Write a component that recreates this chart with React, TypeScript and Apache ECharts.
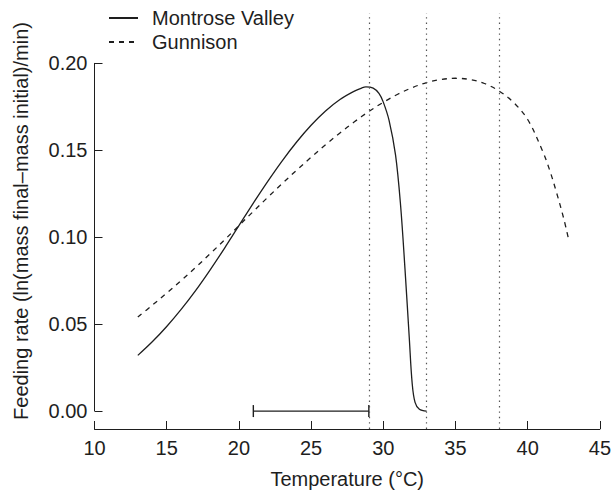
import React, { useEffect, useRef } from "react";
import * as echarts from "echarts";

// Montrose Valley (solid)
const montroseT = [13, 14, 15, 16, 17, 18, 19, 20, 21, 22, 23, 24, 25, 26, 27, 28, 28.5, 28.8, 29.3, 29.7, 30.0, 30.4, 30.85, 31.2, 31.5, 31.8, 32.0, 32.2, 32.5, 33];
const montroseV = [0.032, 0.0398, 0.0486, 0.0584, 0.0692, 0.081, 0.0935, 0.1065, 0.1195, 0.132, 0.1438, 0.1546, 0.1642, 0.1724, 0.179, 0.1838, 0.1856, 0.1862, 0.1855, 0.1825, 0.1775, 0.167, 0.147, 0.118, 0.082, 0.042, 0.016, 0.005, 0.001, 0];

// Gunnison (dashed)
const gunnisonT = [13, 14, 15, 16, 17, 18, 19, 20, 21, 22, 23, 24, 25, 26, 27, 28, 29, 30, 31, 32, 33, 34, 35, 36, 37, 38, 39, 40, 41, 41.5, 42, 42.5, 42.85];
const gunnisonV = [0.054, 0.0608, 0.0678, 0.075, 0.0825, 0.0903, 0.0983, 0.1065, 0.1147, 0.1228, 0.1307, 0.1384, 0.1458, 0.153, 0.1598, 0.1662, 0.1721, 0.1774, 0.182, 0.1858, 0.1887, 0.1905, 0.1912, 0.1905, 0.1882, 0.184, 0.1775, 0.1675, 0.15, 0.139, 0.1255, 0.1105, 0.098];

// reference lines and bracket
const vLines = [29, 33, 38];
const bracketT = [21, 29];
const bracketV = 0;

// axes
const yTicks = [0, 0.05, 0.1, 0.15, 0.2];
const xMin = 10;
const xMax = 45;
const xInterval = 5;
const yMin = -0.0103;
const yMax = 0.2287;

const FONT = "'Liberation Sans', Arial, Helvetica, sans-serif";
const INK = "#1e1e1e";

export default function App() {
  const ref = useRef<HTMLDivElement>(null);
  useEffect(() => {
    if (!ref.current) return;
    const chart = echarts.init(ref.current, undefined, { renderer: "svg" });
    const montrose = montroseT.map((t, i) => [t, montroseV[i]]);
    const gunnison = gunnisonT.map((t, i) => [t, gunnisonV[i]]);
    chart.setOption({
      animation: false,
      backgroundColor: "#ffffff",
      textStyle: { fontFamily: FONT },
      grid: { left: 94.5, right: 12.5, top: 13, bottom: 64 },
      legend: {
        data: ["Montrose Valley", "Gunnison"],
        orient: "vertical",
        left: 108,
        top: 8,
        padding: 0,
        itemWidth: 29,
        itemHeight: 14,
        itemGap: 4,
        itemStyle: { opacity: 0 },
        textStyle: { fontFamily: FONT, fontSize: 20, color: INK, lineHeight: 20, padding: [0, 0, 0, 9] },
      },
      xAxis: {
        type: "value",
        min: xMin,
        max: xMax,
        interval: xInterval,
        name: "Temperature (°C)",
        nameLocation: "middle",
        nameGap: 40,
        nameTextStyle: { fontFamily: FONT, fontSize: 20, color: INK },
        axisLine: { show: true, onZero: false, lineStyle: { color: INK, width: 1 } },
        axisTick: { show: true, inside: true, length: 8, lineStyle: { color: INK, width: 1 } },
        axisLabel: { fontFamily: FONT, fontSize: 20, color: INK, margin: 9 },
        splitLine: { show: false },
      },
      yAxis: {
        type: "value",
        min: yMin,
        max: yMax,
        name: "Feeding rate (ln(mass final–mass initial)/min)",
        nameLocation: "middle",
        nameGap: 64,
        nameTextStyle: { fontFamily: FONT, fontSize: 20, color: INK },
        axisLine: { show: false, onZero: false },
        axisTick: { show: true, inside: true, length: 8, customValues: yTicks, lineStyle: { color: INK, width: 1 } },
        axisLabel: {
          fontFamily: FONT,
          fontSize: 20,
          color: INK,
          margin: 7,
          customValues: yTicks,
          formatter: (v: number) => v.toFixed(2),
        },
        splitLine: { show: false },
      },
      series: [
        {
          name: "Montrose Valley",
          type: "line",
          data: montrose,
          smooth: 0.35,
          symbol: "none",
          lineStyle: { color: INK, width: 1.3, type: "solid" },
          itemStyle: { color: INK },
          z: 3,
          markLine: {
            silent: true,
            symbol: ["none", "none"],
            label: { show: false },
            lineStyle: { color: "#555", width: 1.2, type: [1.4, 4] },
            data: vLines.map((x) => ({ xAxis: x })),
          },
        },
        {
          name: "Gunnison",
          type: "line",
          data: gunnison,
          smooth: 0.35,
          symbol: "none",
          lineStyle: { color: INK, width: 1.3, type: [5, 5] },
          itemStyle: { color: INK },
          z: 3,
        },
        {
          name: "bracket",
          type: "line",
          data: bracketT.map((t) => [t, bracketV]),
          symbol: "rect",
          symbolSize: [1.4, 12],
          showSymbol: true,
          lineStyle: { color: INK, width: 1.3 },
          itemStyle: { color: INK },
          silent: true,
        },
        {
          name: "yaxisline",
          type: "line",
          data: [
            [xMin, yTicks[0]],
            [xMin, yTicks[yTicks.length - 1]],
          ],
          symbol: "none",
          clip: false,
          lineStyle: { color: INK, width: 1 },
          silent: true,
        },
      ],
    });
    return () => chart.dispose();
  }, []);
  return (
    <div
      ref={ref}
      style={{ position: "fixed", left: 0, top: 0, width: 614, height: 494, background: "#fff" }}
    />
  );
}
